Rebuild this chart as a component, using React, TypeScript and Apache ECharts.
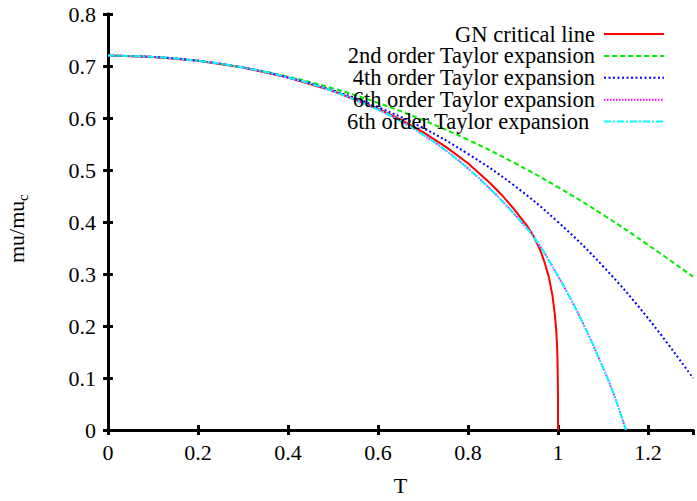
import React, { useEffect, useRef } from "react";
import * as echarts from "echarts";

// ---- data ----
const SERIES_NAMES = [
  "GN critical line",
  "2nd order Taylor expansion",
  "4th order Taylor expansion",
  "6th order Taylor expansion",
  "6th order Taylor expansion ",
];

const T_GN = [0, 0.1, 0.2, 0.3, 0.4, 0.5, 0.6, 0.65, 0.7, 0.75, 0.8, 0.85, 0.875, 0.9, 0.93, 0.945, 0.96, 0.97, 0.98, 0.988, 0.993, 0.996, 0.998, 0.999, 0.9995, 1.0, 1.0];
const MU_GN = [0.72, 0.7175, 0.71, 0.697, 0.678, 0.652, 0.618, 0.597, 0.573, 0.545, 0.513, 0.474, 0.452, 0.427, 0.394, 0.374, 0.347, 0.323, 0.293, 0.257, 0.222, 0.193, 0.16, 0.13, 0.1, 0.06, 0];

const T_TAYLOR = [0, 0.1, 0.2, 0.3, 0.4, 0.5, 0.6, 0.7, 0.8, 0.9, 1.0, 1.1, 1.2, 1.3];
const MU_2ND = [0.72, 0.7175, 0.71, 0.697, 0.6795, 0.657, 0.629, 0.596, 0.558, 0.515, 0.467, 0.414, 0.356, 0.295];
const MU_4TH = [0.72, 0.7175, 0.71, 0.697, 0.678, 0.653, 0.621, 0.581, 0.531, 0.472, 0.4, 0.315, 0.215, 0.1];

const T_6TH = [0, 0.1, 0.2, 0.3, 0.4, 0.5, 0.6, 0.65, 0.7, 0.75, 0.8, 0.85, 0.9, 0.95, 1.0, 1.05, 1.1, 1.125, 1.151];
const MU_6TH = [0.72, 0.7175, 0.71, 0.697, 0.678, 0.6515, 0.616, 0.594, 0.568, 0.538, 0.503, 0.463, 0.418, 0.366, 0.296, 0.215, 0.12, 0.066, 0];

const X_MIN = 0, X_MAX = 1.3, X_STEP = 0.2;
const Y_MIN = 0, Y_MAX = 0.8, Y_STEP = 0.1;
const X_NAME = "T";

const FONT = "'Liberation Serif', 'Times New Roman', serif";

const pairs = (xs: number[], ys: number[]) => xs.map((x, i) => [x, ys[i]]);

export default function App() {
  const ref = useRef<HTMLDivElement>(null);
  useEffect(() => {
    if (!ref.current) return;
    const chart = echarts.init(ref.current, null, { renderer: "svg" });
    const axisLine = { show: true, lineStyle: { color: "#000", width: 3 } };
    const tick = { show: true, inside: true, length: 5, lineStyle: { color: "#000", width: 3 } };
    const label = { color: "#000", fontFamily: FONT, fontSize: 22 };
    const lineSeries = (name: string, data: number[][], color: string, type: any, width: number, smooth: any) => ({
      name,
      type: "line",
      data,
      symbol: "none",
      showSymbol: false,
      smooth,
      lineStyle: { color, width, type },
      itemStyle: { color },
      z: 2,
    });
    chart.setOption({
      animation: false,
      backgroundColor: "#fff",
      grid: { left: 108, right: 4, top: 14, bottom: 66, containLabel: false },
      xAxis: [
        {
          type: "value",
          min: X_MIN,
          max: X_MAX,
          interval: X_STEP,
          position: "bottom",
          axisLine,
          axisTick: tick,
          splitLine: { show: false },
          axisLabel: { ...label, margin: 11, showMaxLabel: false },
          name: X_NAME,
          nameLocation: "middle",
          nameGap: 44,
          nameTextStyle: { color: "#000", fontFamily: FONT, fontSize: 22 },
        },
        {
          type: "value",
          min: X_MIN,
          max: X_MAX,
          interval: X_STEP,
          position: "top",
          axisLine,
          axisTick: tick,
          splitLine: { show: false },
          axisLabel: { show: false },
        },
      ],
      yAxis: [
        {
          type: "value",
          min: Y_MIN,
          max: Y_MAX,
          interval: Y_STEP,
          position: "left",
          axisLine,
          axisTick: tick,
          splitLine: { show: false },
          axisLabel: { ...label, margin: 12 },
        },
        {
          type: "value",
          min: Y_MIN,
          max: Y_MAX,
          interval: Y_STEP,
          position: "right",
          axisLine,
          axisTick: tick,
          splitLine: { show: false },
          axisLabel: { show: false },
        },
      ],
      legend: {
        orient: "vertical",
        align: "right",
        right: 32,
        top: 22.5,
        padding: 0,
        itemGap: -1.1,
        itemWidth: 60,
        itemHeight: 10,
        selectedMode: false,
        itemStyle: { opacity: 0 },
        textStyle: { color: "#000", fontFamily: FONT, fontSize: 22.5, lineHeight: 22, padding: [0, 4, 0, 0] },
        data: SERIES_NAMES,
      },
      graphic: [
        {
          type: "group",
          x: 16,
          y: 263,
          rotation: Math.PI / 2,
          children: [
            {
              type: "text",
              x: 0,
              y: 0,
              style: { text: "mu/mu", fill: "#000", font: `22px ${FONT}`, textAlign: "left", textVerticalAlign: "middle" },
            },
            {
              type: "text",
              x: 62,
              y: 7,
              style: { text: "c", fill: "#000", font: `15px ${FONT}`, textAlign: "left", textVerticalAlign: "middle" },
            },
          ],
        },
      ],
      series: [
        lineSeries(SERIES_NAMES[0], pairs(T_GN, MU_GN), "#ff0000", "solid", 2, false),
        lineSeries(SERIES_NAMES[1], pairs(T_TAYLOR, MU_2ND), "#00ee00", [5, 3], 2, 0.4),
        lineSeries(SERIES_NAMES[2], pairs(T_TAYLOR, MU_4TH), "#0000ff", [2, 2.5], 2, 0.4),
        lineSeries(SERIES_NAMES[3], pairs(T_6TH, MU_6TH), "#ff00ff", [1.5, 1.5], 2, 0.4),
        lineSeries(SERIES_NAMES[4], pairs(T_6TH, MU_6TH), "#00ffff", [7, 2, 2, 2], 2, 0.4),
      ],
    });
    return () => chart.dispose();
  }, []);
  return (
    <div
      ref={ref}
      style={{ position: "absolute", left: 0, top: 0, width: 697, height: 501 }}
    />
  );
}
